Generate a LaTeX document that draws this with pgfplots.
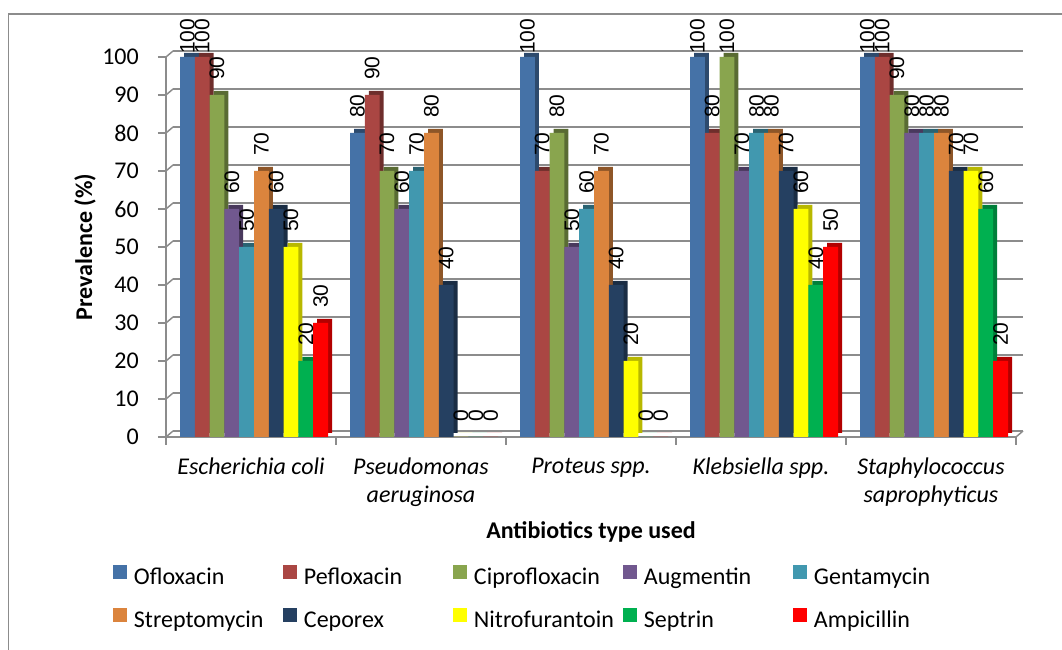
\documentclass[border=0pt]{standalone}
\usepackage{fontspec}
\setmainfont{Carlito}
\newfontfamily\labfont{Liberation Sans}
\usepackage{pgfplots}
\usepackage{pgfplotstable}
\pgfplotsset{compat=1.18}

\definecolor{cA}{HTML}{4572A7}
\definecolor{cB}{HTML}{AA4643}
\definecolor{cC}{HTML}{89A54E}
\definecolor{cD}{HTML}{71588F}
\definecolor{cE}{HTML}{4198AF}
\definecolor{cF}{HTML}{DB843D}
\definecolor{cG}{HTML}{254061}
\definecolor{cH}{HTML}{FFFF00}
\definecolor{cI}{HTML}{00B050}
\definecolor{cJ}{HTML}{FF0000}
\definecolor{gridc}{HTML}{8C8C8C}

\pgfplotstableread{
g Ofl Pef Cip Aug Gen Str Cep Nit Sep Amp
0 100 100 90 60 50 70 60 50 20 30
1 80 90 70 60 70 80 40 0 0 0
2 100 70 80 50 60 70 40 20 0 0
3 100 80 100 70 80 80 70 60 40 50
4 100 100 90 80 80 80 70 70 60 20
}\datatable

% #1 colour, #2 column, #3 bar shift, #4 side shift, #5 legend text, #6 side colour mix
\newcommand\series[6]{%
  \addplot[fill=#1!#6!black, draw=none, bar shift=#4pt, yshift=4pt, forget plot] table[x=g,y=#2]{\datatable};
  \addplot[fill=#1, draw=none, bar shift=#3pt, nodes near coords,
    visualization depends on={\thisrow{#2} \as \val},
    every node near coord/.append style={inner xsep={(\val>99)*1pt+(\val<99)*13pt}}] table[x=g,y=#2]{\datatable};
  \addlegendentry{#5}
}

\begin{document}
\fontsize{24}{28}\selectfont
\begin{tikzpicture}[x=1pt,y=1pt]
\path[use as bounding box] (0,0) rectangle (1062,650);
\draw[gridc, line width=1.5pt] (8.5,0) -- (8.5,636) -- (1062,636);
\begin{axis}[
  at={(166pt,213pt)}, anchor=south west,
  scale only axis, width=850pt, height=380pt,
  xmin=-0.5, xmax=4.5, ymin=0, ymax=100,
  clip=false,
  /pgf/number format/assume math mode=true,
  axis lines*=left,
  axis line style={gridc, line width=1.5pt},
  ybar=0pt, bar width=14.8pt,
  xtick={0,...,4},
  xticklabels={{\textit{Escherichia coli}},{\textit{Pseudomonas}\\\textit{aeruginosa}},{\textit{Proteus spp.}},{\textit{Klebsiella spp.}},{\textit{Staphylococcus}\\\textit{saprophyticus}}},
  minor xtick={-0.5,0.5,...,4.5},
  ytick={0,10,...,100},
  tick align=outside,
  major tick length=8pt,
  minor tick length=8pt,
  major x tick style={draw=none},
  minor x tick style={gridc, line width=1.5pt},
  ytick style={gridc, line width=1.5pt},
  ymajorgrids,
  grid style={gridc, line width=2pt, xshift=7pt, yshift=6pt},
  ticklabel style={font=\fontsize{24}{28}\selectfont},
  xticklabel style={align=center, inner ysep=0pt, yshift=-13pt},
  yticklabel style={inner xsep=0pt, xshift=-19pt},
  xlabel={\textbf{Antibiotics type used}},
  ylabel={\textbf{Prevalence (\%)}},
  every axis x label/.style={at={(axis description cs:0.5,-0.25)}, anchor=center},
  every axis y label/.style={at={(axis description cs:-0.0953,0.5)}, rotate=90, anchor=center},
  every node near coord/.append style={rotate=90, anchor=west, font=\labfont\fontsize{21}{24}\selectfont, inner ysep=0pt, xshift=2pt, text=black},
  legend columns=5,
  legend style={at={(axis description cs:-0.0624,-0.3368)}, anchor=north west, draw=none, fill=none, inner sep=0pt, outer sep=0pt,
    font=\fontsize{24}{28}\selectfont, row sep=18pt,
    nodes={text width=142pt, inner xsep=7pt, inner ysep=0pt, text height=17pt, text depth=5pt, align=left}},
  legend image code/.code={\fill[#1,draw=none] (0pt,0pt) rectangle (14pt,14pt);},
]
\pgfplotsinvokeforeach{0,10,...,100}{\draw[gridc, line width=1.5pt] (axis cs:-0.5,#1) -- ++(7pt,6pt);}
\draw[gridc, line width=1.5pt] (axis cs:4.5,0) -- ++(7pt,6pt);
\series{cA}{Ofl}{-63.6}{-59.6}{Ofloxacin}{65}
\series{cB}{Pef}{-48.8}{-44.8}{Pefloxacin}{65}
\series{cC}{Cip}{-34}{-30}{Ciprofloxacin}{65}
\series{cD}{Aug}{-19.2}{-15.2}{Augmentin}{65}
\series{cE}{Gen}{-4.4}{-0.4}{Gentamycin}{65}
\series{cF}{Str}{10.4}{14.4}{Streptomycin}{65}
\series{cG}{Cep}{25.2}{29.2}{Ceporex}{70}
\series{cH}{Nit}{40}{44}{Nitrofurantoin}{72}
\series{cI}{Sep}{54.8}{58.8}{Septrin}{72}
\series{cJ}{Amp}{69.6}{73.6}{Ampicillin}{70}
\end{axis}
\end{tikzpicture}
\end{document}
